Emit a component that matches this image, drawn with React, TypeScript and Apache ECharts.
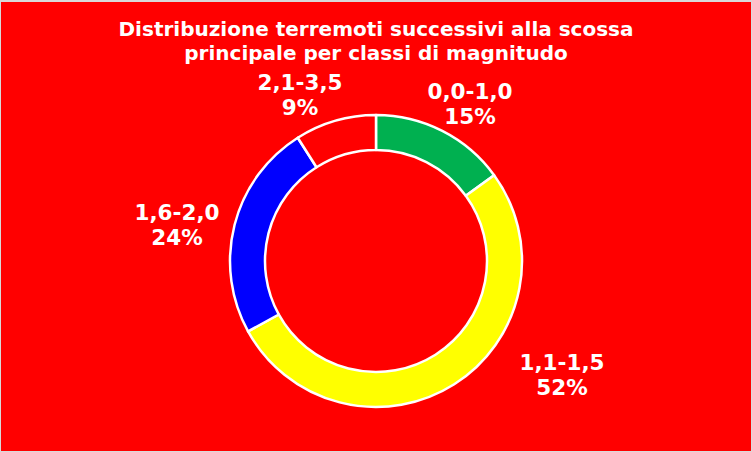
import React from 'react';
import * as echarts from 'echarts';

const categories = ['0,0-1,0', '1,1-1,5', '1,6-2,0', '2,1-3,5'];
const percentages = [15, 52, 24, 9];
const sliceColors = ['#00B050', '#FFFF00', '#0000FF', '#FF0000'];

// label anchor points (chart pixels), in the same order as categories
const labelAnchors = [
  [469, 102],
  [561, 373],
  [176, 223],
  [299, 93],
];

const App = () => {
  const chartRef = React.useRef(null);

  React.useEffect(() => {
    const chartDom = chartRef.current;
    const myChart = echarts.init(chartDom, null, { renderer: 'svg' });

    const option: any = {
      animation: false,
      backgroundColor: '#FF0000',
      title: {
        text: 'Distribuzione terremoti successivi alla scossa\nprincipale per classi di magnitudo',
        left: 'center',
        top: 10,
        textStyle: {
          color: '#FFFFFF',
          fontFamily: 'DejaVu Sans',
          fontWeight: 'bold',
          fontSize: 20,
          lineHeight: 24,
        },
      },
      series: [
        {
          type: 'pie',
          center: [375, 259],
          radius: [111, 146],
          startAngle: 90,
          clockwise: true,
          data: categories.map((name, i) => ({
            name,
            value: percentages[i],
            itemStyle: { color: sliceColors[i] },
          })),
          itemStyle: {
            borderColor: '#FFFFFF',
            borderWidth: 2.5,
          },
          label: {
            show: true,
            position: 'outside',
            formatter: (p: any) => `${p.name}\n${p.value}%`,
            color: '#FFFFFF',
            fontFamily: 'DejaVu Sans',
            fontWeight: 'bold',
            fontSize: 21.5,
            lineHeight: 25,
            align: 'center',
          },
          labelLine: { show: false },
          labelLayout: (params: any) => {
            const a = labelAnchors[params.dataIndex];
            return { x: a[0], y: a[1], align: 'center', verticalAlign: 'middle' };
          },
          emphasis: { disabled: true },
        },
      ],
    };

    myChart.setOption(option);

    return () => {
      myChart.dispose();
    };
  }, []);

  return (
    <div
      style={{
        position: 'fixed',
        left: 0,
        top: 0,
        width: '752px',
        height: '452px',
        boxSizing: 'border-box',
        border: '1px solid #D9D9D9',
        borderTopWidth: '2px',
        background: '#FF0000',
      }}
    >
      <div ref={chartRef} style={{ width: '100%', height: '100%' }} />
    </div>
  );
};

export default App;
